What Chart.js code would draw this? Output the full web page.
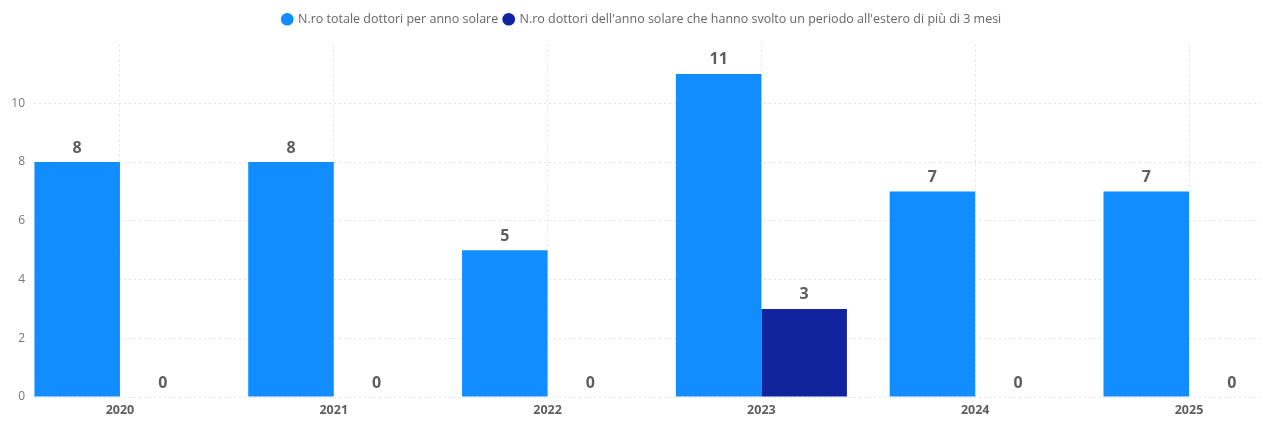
<!DOCTYPE html>
<html>
<head>
<meta charset="utf-8">
<script src="https://cdn.jsdelivr.net/npm/chart.js@4.4.1/dist/chart.umd.min.js"></script>
<style>
  html, body { margin: 0; padding: 0; background: #ffffff; }
  #wrap { width: 1263px; height: 437px; position: relative; }
</style>
</head>
<body>
<div id="wrap"><canvas id="c" width="1263" height="437"></canvas></div>
<script>
const categories = ['2020', '2021', '2022', '2023', '2024', '2025'];
const totalDoctors = [8, 8, 5, 11, 7, 7];
const abroadDoctors = [0, 0, 0, 3, 0, 0];
const yTickValues = [0, 2, 4, 6, 8, 10];
const seriesNames = [
  'N.ro totale dottori per anno solare',
  "N.ro dottori dell'anno solare che hanno svolto un periodo all'estero di più di 3 mesi"
];

const FONT = '"Segoe UI", "Open Sans", "Noto Sans", sans-serif';

const toPoints = arr => categories.map((c, i) => ({ x: Number(c), y: arr[i] }));

const valueLabels = {
  id: 'valueLabels',
  afterDatasetsDraw(chart) {
    const ctx = chart.ctx;
    ctx.save();
    ctx.font = 'bold 16px ' + FONT;
    ctx.fillStyle = '#605E5C';
    ctx.textAlign = 'center';
    ctx.textBaseline = 'bottom';
    chart.data.datasets.forEach((ds, di) => {
      const meta = chart.getDatasetMeta(di);
      meta.data.forEach((el, i) => {
        ctx.fillText(String(ds.data[i].y), el.x, el.y - 6);
      });
    });
    ctx.restore();
  }
};

const legendSpacing = {
  id: 'legendSpacing',
  beforeInit(chart) {
    const lg = chart.legend;
    if (!lg) return;
    const origFit = lg.fit;
    lg.fit = function () { origFit.call(this); this.height += 9; };
    const origDraw = lg.draw;
    lg.draw = function () {
      const ctx = this.ctx;
      ctx.save();
      ctx.translate(12, 0);
      origDraw.call(this);
      ctx.restore();
    };
  }
};

new Chart(document.getElementById('c'), {
  type: 'bar',
  data: {
    datasets: [
      { label: seriesNames[0], data: toPoints(totalDoctors), backgroundColor: '#118DFF', categoryPercentage: 0.8, barPercentage: 1.0 },
      { label: seriesNames[1], data: toPoints(abroadDoctors), backgroundColor: '#12239E', categoryPercentage: 0.8, barPercentage: 1.0 }
    ]
  },
  options: {
    responsive: false,
    animation: false,
    layout: { padding: { top: 7, right: 3, left: 0, bottom: 0 } },
    plugins: {
      legend: {
        position: 'top',
        labels: {
          usePointStyle: true,
          pointStyle: 'circle',
          boxWidth: 9,
          boxHeight: 9,
          padding: 6,
          color: '#666666',
          font: { family: FONT, size: 12.5 }
        }
      },
      tooltip: { enabled: false }
    },
    scales: {
      x: {
        type: 'linear',
        offset: false,
        min: 2019.598,
        max: 2025.332,
        afterBuildTicks: s => { s.ticks = categories.map(c => ({ value: Number(c) })); },
        ticks: {
          callback: v => String(v),
          color: '#605E5C',
          font: { family: FONT, size: 12.5, weight: 'bold' },
          padding: 6,
          maxRotation: 0,
          autoSkip: false
        },
        grid: { offset: false, color: '#E1E1E1', lineWidth: 1, drawTicks: false },
        border: { display: false, dash: [2, 3] },
        afterFit: s => { s.height = 40; }
      },
      y: {
        min: 0,
        max: 12,
        afterBuildTicks: s => { s.ticks = yTickValues.map(v => ({ value: v })); },
        ticks: {
          color: '#777777',
          font: { family: FONT, size: 12 },
          padding: 9
        },
        grid: { color: '#E1E1E1', lineWidth: 1, drawTicks: false },
        border: { display: false, dash: [2, 3] },
        afterFit: s => { s.width = 34; }
      }
    }
  },
  plugins: [valueLabels, legendSpacing]
});
</script>
</body>
</html>
